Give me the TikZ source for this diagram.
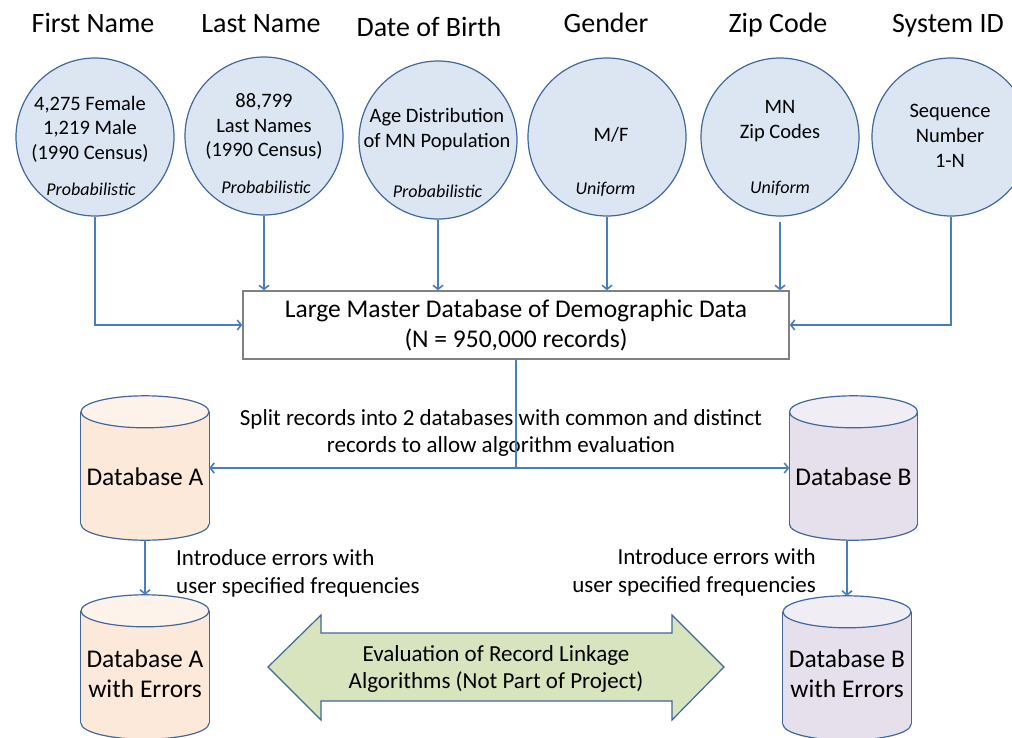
\documentclass[tikz,border=0pt]{standalone}
\usepackage{fontspec}
\setmainfont{Carlito}
\usetikzlibrary{arrows.meta,calc}
\definecolor{circfill}{HTML}{DCE6F2}
\definecolor{circborder}{HTML}{41679C}
\definecolor{arrowblue}{HTML}{4A7EBB}
\definecolor{boxgray}{HTML}{808080}
\definecolor{abody}{HTML}{FDE9D9}
\definecolor{atop}{HTML}{FEF3EB}
\definecolor{bbody}{HTML}{E5E0EC}
\definecolor{btop}{HTML}{F0EDF5}
\definecolor{greenfill}{HTML}{D7E4BD}
\newcommand\mycyl[3]{%
  \filldraw[fill=#2,draw=circborder,line width=1.2pt] ([yshift=16pt]#1.south) ellipse[x radius=64pt,y radius=16pt];
  \fill[#2] ([yshift=-16pt]#1.north west) rectangle ([yshift=16pt]#1.south east);
  \draw[circborder,line width=1.2pt] ([yshift=-16pt]#1.north west) -- ([yshift=16pt]#1.south west);
  \draw[circborder,line width=1.2pt] ([yshift=-16pt]#1.north east) -- ([yshift=16pt]#1.south east);
  \filldraw[fill=#3,draw=circborder,line width=1.2pt] ([yshift=-16pt]#1.north) ellipse[x radius=64pt,y radius=16pt];
}
\tikzset{
  circ/.style={circle, draw=circborder, fill=circfill, line width=1.2pt, minimum size=158pt, inner sep=0pt},
  title/.style={font=\fontsize{28}{32}\selectfont, anchor=base, inner sep=0pt},
  ctext/.style={font=\fontsize{20.5}{24.7}\selectfont, align=center, inner sep=0pt},
  itext/.style={font=\fontsize{18}{22}\selectfont\itshape, anchor=base, inner sep=0pt},
  conn/.style={draw=arrowblue, line width=1.6pt, -{Straight Barb[length=4pt,width=10pt]}},
  plainline/.style={draw=arrowblue, line width=1.6pt},
  master/.style={draw=boxgray, line width=1.5pt, fill=white, minimum width=546pt, minimum height=68pt, inner sep=0pt, align=center, font=\fontsize{25.5}{30}\selectfont},
  cylbox/.style={minimum width=128pt, minimum height=144pt, inner sep=0pt},
  dbtext/.style={font=\fontsize{25.5}{30}\selectfont, align=center, inner sep=0pt},
  note/.style={font=\fontsize{23}{27.5}\selectfont, inner sep=0pt},
}
\begin{document}
\begin{tikzpicture}[x=1pt,y=-1pt]
\clip (0,0) rectangle (1012,737);
\fill[white] (0,0) rectangle (1012,737);
% titles
\node[title] (h1) at (93,32) {First Name};
\node[title] (h2) at (261,32) {Last Name};
\node[title] (h3) at (429,36) {Date of Birth};
\node[title] (h4) at (606,32) {Gender};
\node[title] (h5) at (778,32) {Zip Code};
\node[title] (h6) at (948,32) {System ID};
% circles
\node[circ] (c1) at (95,137) {};
\node[circ] (c2) at (264,136) {};
\node[circ] (c3) at (438,140) {};
\node[circ] (c4) at (607,137) {};
\node[circ] (c5) at (780,137) {};
\node[circ] (c6) at (951,137) {};
\node[ctext] (t1) at (90,129) {4,275 Female\\1,219 Male\\(1990 Census)};
\node[itext] (p1) at (91,195) {Probabilistic};
\node[ctext] (t2) at (264,126.5) {88,799\\Last Names\\(1990 Census)};
\node[itext] (p2) at (266,193) {Probabilistic};
\node[ctext] (t3) at (437,129.5) {Age Distribution\\of MN Population};
\node[itext] (p3) at (437.5,197) {Probabilistic};
\node[ctext,anchor=base] (t4) at (611,141) {M/F};
\node[itext] (p4) at (605.5,194) {Uniform};
\node[ctext] (t5) at (780,121) {MN\\Zip Codes};
\node[itext] (p5) at (780,193) {Uniform};
\node[ctext] (t6) at (950,136) {Sequence\\Number\\1-N};
% master box
\node[master] (box) at (516,325) {Large Master Database of Demographic Data\\(N = 950,000 records)};
% connectors into master
\draw[conn] (c1.south) |- (box.west);
\draw[conn] (c2.south) -- (c2.south |- box.north);
\draw[conn] (c3.south) -- (c3.south |- box.north);
\draw[conn] (c4.south) -- (c4.south |- box.north);
\draw[conn,shorten <=5pt] (c5.south) -- (c5.south |- box.north);
\draw[conn] (c6.south) |- (box.east);
% cylinders
\node[cylbox] (dbA) at (145,468) {};
\node[cylbox] (dbB) at (853.5,468) {};
\node[cylbox] (dbAe) at (145,667) {};
\node[cylbox] (dbBe) at (847,668) {};
\mycyl{dbA}{abody}{atop}
\mycyl{dbB}{bbody}{btop}
\mycyl{dbAe}{abody}{atop}
\mycyl{dbBe}{bbody}{btop}
\node[dbtext,anchor=base] (la) at (145,485) {Database A};
\node[dbtext,anchor=base] (lb) at (853.5,485) {Database B};
\node[dbtext] (lae) at (145,673.5) {Database A\\with Errors};
\node[dbtext] (lbe) at (847,673.5) {Database B\\with Errors};
% split
\node[note,align=center] (split) at (501,433) {Split records into 2 databases with common and distinct\\records to allow algorithm evaluation};
\coordinate (sp) at (516,468);
\draw[plainline] (box.south) -- (sp);
\draw[conn] (sp) -- (dbA.east |- sp);
\draw[conn] (sp) -- (dbB.west |- sp);
% errors
\draw[conn] (dbA.south) -- (dbAe.north);
\draw[conn] (dbBe.north |- dbB.south) -- (dbBe.north);
\node[note,align=left,anchor=west] (ia) at (176,573.5) {Introduce errors with\\user specified frequencies};
\node[note,align=right,anchor=east] (ib) at (816,572.5) {Introduce errors with\\user specified frequencies};
% double arrow
\filldraw[fill=greenfill,draw=circborder,line width=1.2pt] (268,667) -- (321,615) -- (321,633) -- (672,633) -- (672,615) -- (724,667) -- (672,720) -- (672,701) -- (321,701) -- (321,720) -- cycle;
\node[note,align=center] (ev) at (496,669) {Evaluation of Record Linkage\\Algorithms (Not Part of Project)};
\end{tikzpicture}
\end{document}
